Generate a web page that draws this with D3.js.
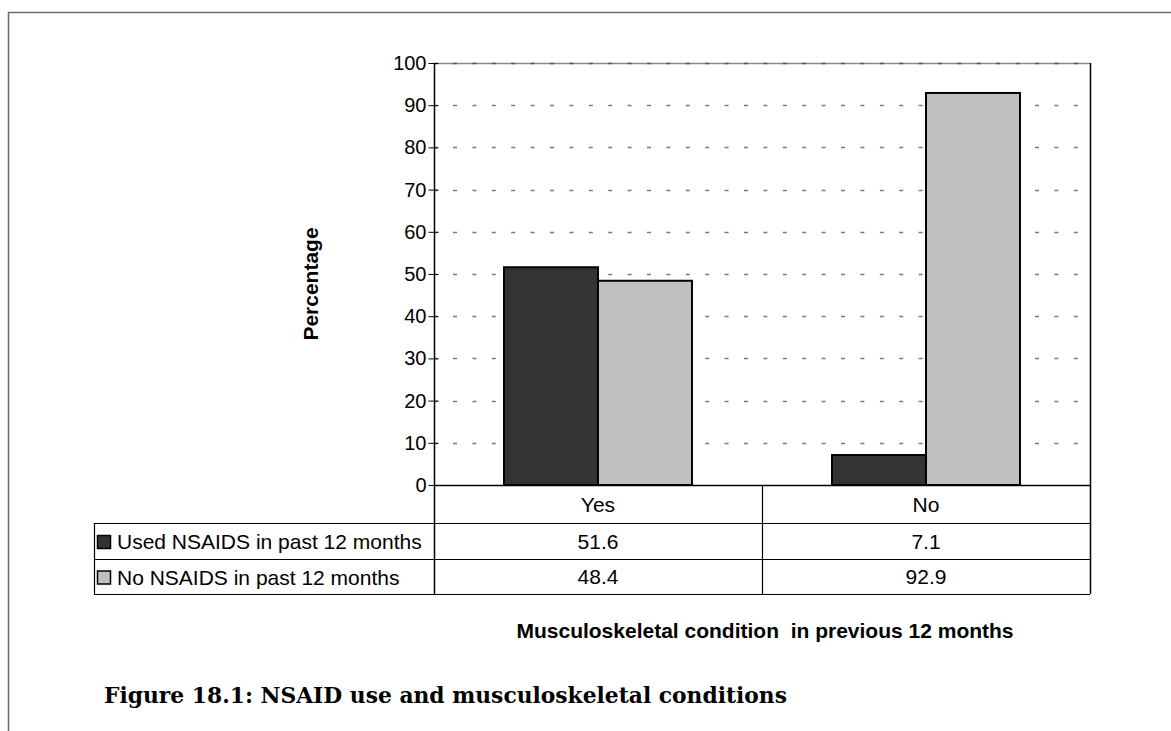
<!DOCTYPE html>
<html>
<head>
<meta charset="utf-8">
<script src="https://cdn.jsdelivr.net/npm/d3@7"></script>
<style>
  html, body { margin: 0; padding: 0; background: #fff; }
  svg { display: block; }
  text { white-space: pre; }
</style>
</head>
<body>
<script>
// ---- Data ----
const categories = ["Yes", "No"];
const seriesNames = ["Used NSAIDS in past 12 months", "No NSAIDS in past 12 months"];
const usedNSAIDS = [51.6, 7.1];
const noNSAIDS = [48.4, 92.9];
const yTicks = [0, 10, 20, 30, 40, 50, 60, 70, 80, 90, 100];
const yTitle = "Percentage";
const xTitle = "Musculoskeletal condition  in previous 12 months";
const caption = "Figure 18.1: NSAID use and musculoskeletal conditions";

const seriesValues = [usedNSAIDS, noNSAIDS];
const seriesColors = ["#333333", "#c0c0c0"];

const W = 1171, H = 731;
const plot = { left: 434, right: 1090, top: 63, bottom: 485 };
const rowH = [38, 36, 35];
const tableLeft = 94;
const font = "'Liberation Sans', Arial, sans-serif";
const fs = 21;

const svg = d3.select("body").append("svg").attr("width", W).attr("height", H);

// outer frame
svg.append("rect").attr("x", 8.5).attr("y", 12.5).attr("width", W + 20).attr("height", H + 20)
  .attr("fill", "none").attr("stroke", "#6a6a6a").attr("stroke-width", 1.5);

const y = d3.scaleLinear().domain([0, 100]).range([plot.bottom, plot.top]);
const x = d3.scaleBand().domain(categories).range([plot.left, plot.right]).padding(0);
const xs = d3.scaleBand().domain(d3.range(seriesNames.length)).range([0, x.bandwidth()])
  .paddingInner(0).paddingOuter(0.745);

// plot top border (gray)
svg.append("line").attr("x1", plot.left).attr("x2", plot.right)
  .attr("y1", plot.top + 0.5).attr("y2", plot.top + 0.5)
  .attr("stroke", "#8a8a8a").attr("stroke-width", 1.5);

// gridlines
svg.append("g").selectAll("line").data(yTicks.filter(d => d > 0)).join("line")
  .attr("x1", plot.left).attr("x2", plot.right)
  .attr("y1", d => Math.round(y(d)) + 0.5).attr("y2", d => Math.round(y(d)) + 0.5)
  .attr("stroke", d => d === 100 ? "#555" : "#7a7a7a").attr("stroke-width", 1.3)
  .attr("stroke-dasharray", "4,15.4").attr("stroke-dashoffset", 0.4);

// bars
const g = svg.append("g");
categories.forEach((c, ci) => {
  seriesValues.forEach((vals, si) => {
    const v = vals[ci];
    g.append("rect")
      .attr("x", x(c) + xs(si))
      .attr("y", y(v))
      .attr("width", xs.bandwidth())
      .attr("height", y(0) - y(v))
      .attr("fill", seriesColors[si])
      .attr("stroke", "#000").attr("stroke-width", 2);
  });
});

// y axis
const yAxis = d3.axisLeft(y).tickValues(yTicks).tickSize(6).tickPadding(3);
const ya = svg.append("g").attr("transform", `translate(${plot.left + 0.5},0)`).call(yAxis);
ya.select(".domain").remove();
ya.selectAll(".tick line").attr("x2", -6).attr("x1", 4).attr("stroke", "#000");
ya.selectAll(".tick text").attr("font-family", font).attr("font-size", 20).attr("fill", "#000")
  .attr("x", -8);

// table lines
const tableTop = plot.bottom;
const rowY = [tableTop, tableTop + rowH[0], tableTop + rowH[0] + rowH[1], tableTop + rowH[0] + rowH[1] + rowH[2]];
const lines = svg.append("g").attr("stroke", "#000").attr("stroke-width", 1.2);
lines.append("line").attr("x1", plot.left).attr("x2", plot.right).attr("y1", rowY[0] + 0.5).attr("y2", rowY[0] + 0.5).attr("stroke-width", 1.5);
[1, 2, 3].forEach(i => {
  lines.append("line").attr("x1", tableLeft).attr("x2", plot.right).attr("y1", rowY[i] + 0.5).attr("y2", rowY[i] + 0.5);
});
lines.append("line").attr("x1", plot.left + 0.5).attr("x2", plot.left + 0.5).attr("y1", plot.top).attr("y2", rowY[3]).attr("stroke-width", 1.5);
lines.append("line").attr("x1", plot.right + 0.5).attr("x2", plot.right + 0.5).attr("y1", plot.top).attr("y2", rowY[3]).attr("stroke-width", 1.5);
lines.append("line").attr("x1", x("No") + 0.5).attr("x2", x("No") + 0.5).attr("y1", rowY[0]).attr("y2", rowY[3]);
lines.append("line").attr("x1", tableLeft + 0.5).attr("x2", tableLeft + 0.5).attr("y1", rowY[1]).attr("y2", rowY[3]);

// category labels
svg.append("g").selectAll("text").data(categories).join("text")
  .attr("x", d => x(d) + x.bandwidth() / 2)
  .attr("y", (rowY[0] + rowY[1]) / 2 + 7.5)
  .attr("text-anchor", "middle").attr("font-family", font).attr("font-size", fs)
  .text(d => d);

// values + legend
seriesNames.forEach((name, si) => {
  const cy = (rowY[si + 1] + rowY[si + 2]) / 2;
  svg.append("rect").attr("x", 97.5).attr("y", cy - 5.5).attr("width", 13).attr("height", 13)
    .attr("fill", seriesColors[si]).attr("stroke", "#000").attr("stroke-width", 1.5);
  svg.append("text").attr("x", 117).attr("y", cy + 8)
    .attr("font-family", font).attr("font-size", fs).text(name);
  categories.forEach((c, ci) => {
    svg.append("text").attr("x", x(c) + x.bandwidth() / 2).attr("y", cy + 7.5)
      .attr("text-anchor", "middle").attr("font-family", font).attr("font-size", fs)
      .text(seriesValues[si][ci].toFixed(1));
  });
});

// titles
svg.append("text").attr("transform", "translate(318,284) rotate(-90)")
  .attr("text-anchor", "middle").attr("font-family", font).attr("font-weight", "bold")
  .attr("font-size", fs).text(yTitle);

svg.append("text").attr("x", 765).attr("y", 638).attr("text-anchor", "middle")
  .attr("font-family", font).attr("font-weight", "bold").attr("font-size", fs)
  .attr("xml:space", "preserve").text(xTitle);

svg.append("text").attr("x", 104).attr("y", 703)
  .attr("font-family", "'DejaVu Serif', serif").attr("font-weight", "bold")
  .attr("font-size", 22.5).attr("textLength", 683).attr("lengthAdjust", "spacingAndGlyphs")
  .text(caption);
</script>
</body>
</html>
